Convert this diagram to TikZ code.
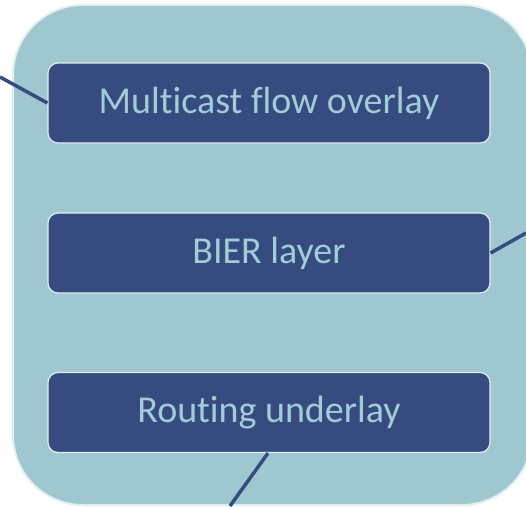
\documentclass[tikz,border=0pt]{standalone}
\usepackage{fontspec}
\setmainfont[Ligatures=NoCommon]{Carlito}
\definecolor{tealbg}{HTML}{9EC7CF}
\definecolor{layerblue}{HTML}{364C81}
\definecolor{layertext}{HTML}{A2CCD6}
\definecolor{edgewhite}{HTML}{E2EFF1}

\begin{document}
\begin{tikzpicture}[x=1pt, y=-1pt,
    layer/.style={draw=edgewhite, line width=1.2pt, fill=layerblue, text=layertext,
        rounded corners=10pt, minimum width=442pt, minimum height=80pt,
        font=\fontsize{38}{44}\selectfont},
    link/.style={draw=layerblue, line width=3.5pt}]
    \useasboundingbox (0,0) rectangle (526,506);
    \draw[fill=tealbg, draw=edgewhite, line width=2pt, rounded corners=70pt] (13,5) rectangle (532,505);
    \node[layer] (overlay) at (269,103) {Multicast flow overlay};
    \node[layer] (bier) at (269,253) {BIER layer};
    \node[layer] (underlay) at (269,412.5) {Routing underlay};
    \coordinate (up) at (0,77);
    \coordinate (side) at (526,233);
    \coordinate (down) at (230,506);
    \draw[link] (up) -- (overlay.west);
    \draw[link] (bier.east) -- (side);
    \draw[link] (underlay.south) ++(-1,0) -- (down);
\end{tikzpicture}
\end{document}
